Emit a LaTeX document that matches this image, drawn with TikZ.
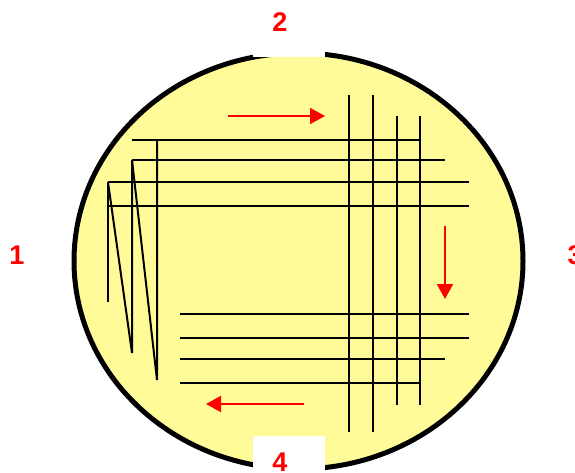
\documentclass[tikz,border=0pt]{standalone}
\usepackage{fontspec}
\setmainfont{Liberation Sans}
\usetikzlibrary{arrows.meta}
\definecolor{dishfill}{HTML}{FFFB99}
\definecolor{lblred}{HTML}{FF0000}
\tikzset{
  streak/.style={draw=black, line width=2pt},
  dir/.style={draw=lblred, line width=2pt, -{Triangle[length=15pt,width=16pt]}},
  lbl/.style={text=lblred, font=\bfseries\fontsize{27}{27}\selectfont, inner sep=0pt},
  gap/.style={fill=white, draw=none},
}
\begin{document}
\begin{tikzpicture}[x=1pt,y=-1pt]
\useasboundingbox (0,0) rectangle (575,473);
% dish
\draw[fill=dishfill, line width=5pt] (298.5,261) ellipse [x radius=224.5, y radius=208];
% top streaks (horizontal)
\draw[streak] (132,140) -- (420,140);
\draw[streak] (132,160) -- (445,160);
\draw[streak] (108,182) -- (469,182);
\draw[streak] (108,206) -- (469,206);
% left zigzag
\draw[streak] (108,182) -- (108,302);
\draw[streak] (108,182) -- (132,353) -- (132,160);
\draw[streak] (132,160) -- (157,380) -- (157,140);
% right verticals
\draw[streak] (349,95) -- (349,432);
\draw[streak] (373,95) -- (373,432);
\draw[streak] (397,116) -- (397,405);
\draw[streak] (420,116) -- (420,405);
% bottom horizontals
\draw[streak] (180,314) -- (469,314);
\draw[streak] (180,338) -- (469,338);
\draw[streak] (180,359) -- (445,359);
\draw[streak] (180,383) -- (420,383);
% direction arrows
\coordinate (a1s) at (228,116); \coordinate (a1e) at (325,116);
\coordinate (a2s) at (445,226); \coordinate (a2e) at (445,299);
\coordinate (a3s) at (304,404); \coordinate (a3e) at (206,404);
\draw[dir] (a1s) -- (a1e);
\draw[dir] (a2s) -- (a2e);
\draw[dir] (a3s) -- (a3e);
% gaps in rim
\fill[gap] (253,0) rectangle (325,57);
\fill[gap] (253,436) rectangle (325,473);
% labels
\node[lbl] (l2) at (280,22) {2};
\node[lbl] (l4) at (280,462) {4};
\node[lbl] (l1) at (17,255) {1};
\node[lbl] (l3) at (575,255) {3};
\end{tikzpicture}
\end{document}
